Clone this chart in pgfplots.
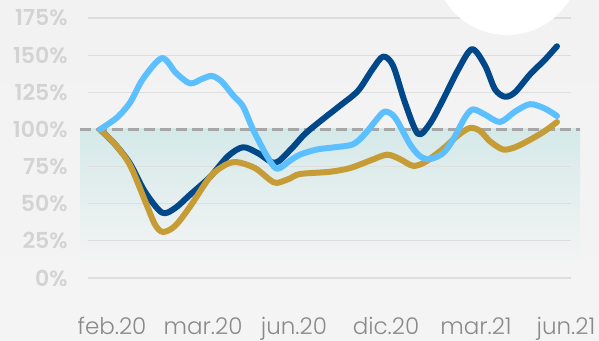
\documentclass[border=0pt]{standalone}
\usepackage{pgfplots}
\pgfplotsset{compat=1.18}
\usepackage{fontspec}
\setmainfont{Poppins}
\newfontfamily\lightfont{Poppins Light}
\newfontfamily\semifont{Poppins SemiBold}

\definecolor{bgtop}{HTML}{F2F2F2}
\definecolor{bgbot}{HTML}{F4F4F4}
\definecolor{shadetop}{HTML}{D5E9E9}
\definecolor{gridc}{HTML}{DEDEDE}
\definecolor{dashc}{HTML}{A6A6A6}
\definecolor{ylab}{HTML}{D3D3D3}
\definecolor{xlab}{HTML}{8A8A8A}
\definecolor{navy}{HTML}{00488A}
\definecolor{sky}{HTML}{5CBFFF}
\definecolor{gold}{HTML}{C69C37}

\begin{document}
\begin{tikzpicture}
\useasboundingbox (-44pt,-31.5pt) rectangle (255.5pt,139pt);
% page background and the soft band under the 100% line (pixel grid)
\begin{scope}[x=0.5pt,y=-0.5pt,shift={(-44pt,139pt)}]
  \shade[top color=bgtop, bottom color=bgbot] (0,0) rectangle (599,341);
  \shade[top color=shadetop, bottom color=bgbot] (80,129) rectangle (580,264);
\end{scope}

\begin{axis}[
  scale only axis, width=241.5pt, height=130pt,
  xmin=88, xmax=571, ymin=0, ymax=175,
  clip=false,
  axis line style={draw=none}, tick style={draw=none},
  ytick={0,25,...,175},
  yticklabel={\pgfmathprintnumber{\tick}\%},
  ymajorgrids, grid style={color=gridc, line width=0.6pt},
  xtick={112,203,294,386,476,566},
  xticklabels={feb.20,mar.20,jun.20,dic.20,mar.21,jun.21},
  /pgf/number format/assume math mode=true,
  xticklabel style={anchor=base, yshift=-28.5pt, inner sep=0pt,
    font=\lightfont\fontsize{11.5}{12}\selectfont, text=xlab},
  yticklabel style={anchor=east, xshift=-10pt, inner sep=0pt,
    font=\semifont\fontsize{11}{12}\selectfont, text=ylab},
]
\draw[dashc, line width=1.5pt, dash pattern=on 5.5pt off 2.5pt]
  (axis cs:80,100) -- (axis cs:580,100);

\addplot[navy, line width=3pt, smooth, line cap=round, line join=round] coordinates {
(100,100) (115,90) (130,77) (145,58) (162,44) (175,47) (190,56) (210,68)
(228,82) (243,88) (258,84) (275,77.5) (290,86) (305,97) (323,107) (340,116)
(358,126) (372,140) (383,149) (393,143) (405,118) (418,97) (430,104) (443,120)
(458,140) (472,154) (485,143) (495,127) (505,122) (515,125) (530,137) (545,147)
(557,156)};

\addplot[gold, line width=3pt, smooth, line cap=round, line join=round] coordinates {
(100,100) (115,90) (130,76) (145,52) (155,36) (163,31) (175,35) (190,48)
(210,68) (225,76) (237,78) (255,74) (270,66) (277,64) (290,67) (300,70)
(330,71.5) (350,74) (370,79) (387,83) (400,80) (413,75.5) (425,78) (443,87)
(458,96) (470,101) (480,99) (490,92) (503,86.5) (515,88) (530,93) (545,99)
(557,105)};

\addplot[sky, line width=3pt, smooth, line cap=round, line join=round] coordinates {
(100,100) (117,108) (130,118) (143,134) (162,148) (176,138) (190,131) (202,134)
(212,136) (222,132) (233,123) (243,115.5) (253,100) (267,82) (277,73.5) (290,79)
(300,83) (317,86.5) (335,88) (353,90) (365,97) (377,107) (385,112) (395,108)
(410,90) (420,82) (430,80) (443,84) (453,93) (465,108) (473,113.5) (485,110)
(500,105) (515,112) (530,117) (545,114) (557,109)};
\end{axis}

% white disc in the upper right corner
\fill[white] (209.5pt,158pt) circle (36.5pt);
\end{tikzpicture}
\end{document}
